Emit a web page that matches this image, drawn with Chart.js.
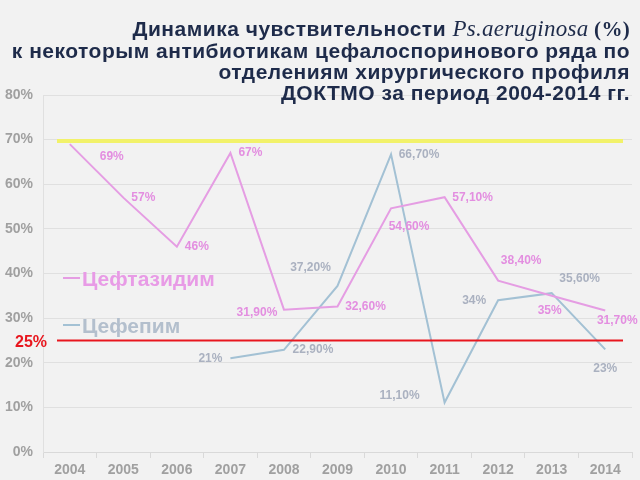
<!DOCTYPE html>
<html>
<head>
<meta charset="utf-8">
<script src="https://cdn.jsdelivr.net/npm/chart.js@4.4.1/dist/chart.umd.min.js"></script>
<style>
  html, body { margin: 0; padding: 0; background: #f2f2f2; }
  #wrap { position: relative; width: 640px; height: 480px; }
  #title {
    position: absolute; right: 10px; top: 18px;
    font: bold 21px "Liberation Sans", Arial, sans-serif;
    letter-spacing: 0.5px;
    line-height: 21px; color: #1e2b4a; text-align: right;
  }
  #title .sp { font-family: "Liberation Serif", "Times New Roman", serif; letter-spacing: 0.3px; }
  #title i { font-weight: normal; font-size: 23px; }
</style>
</head>
<body>
<div id="wrap">
  <canvas id="chart" width="640" height="480"></canvas>
  <div id="title">Динамика чувствительности <span class="sp"><i>Ps.aeruginosa</i> (%)</span><br>к некоторым антибиотикам цефалоспоринового ряда по<br>отделениям хирургического профиля<br>ДОКТМО за период 2004-2014 гг.</div>
</div>
<script>
// ========== Data ==========
const years = ['2004', '2005', '2006', '2007', '2008', '2009', '2010', '2011', '2012', '2013', '2014'];
const seriesNames = ['Цефтазидим', 'Цефепим'];
const ceftazidime = [69, 57, 46, 67, 31.9, 32.6, 54.6, 57.1, 38.4, 35, 31.7];
const cefepime = [null, null, null, 21, 22.9, 37.2, 66.7, 11.1, 34, 35.6, 23];
const thresholdValue = 25;
const upperValue = 69.7;

// label offsets (px) from each point, only used for placing the value text
const pinkLabelShift = [[42, 13], [20, 0], [20, 0], [20, 0], [-27, 3], [28, 0], [18, 18], [28, 0], [23, -20], [-2, 15], [12, 10]];
const blueLabelShift = [null, null, null, [-20, 0], [29, 0], [-27, -18], [28, 0], [-45, -7], [-24, 0], [28, -14], [0, 19]];

const pink = '#e59de3';
const pinkText = '#e38ee0';
const blue = '#a3c1d4';
const blueText = '#aab1c0';

function fmt(v) {
  return Number.isInteger(v) ? v + '%' : v.toFixed(2).replace('.', ',') + '%';
}

// ========== Plugins ==========
const extras = {
  id: 'extras',
  beforeDatasetsDraw(chart) {
    const { ctx, chartArea: a, scales: { y } } = chart;
    ctx.save();
    // yellow upper line
    ctx.strokeStyle = '#f2f26a';
    ctx.lineWidth = 4;
    ctx.beginPath();
    ctx.moveTo(a.left + 14, y.getPixelForValue(upperValue));
    ctx.lineTo(a.right - 9, y.getPixelForValue(upperValue));
    ctx.stroke();
    ctx.restore();
  },
  afterDatasetsDraw(chart) {
    const { ctx, chartArea: a, scales: { y } } = chart;
    ctx.save();
    // red threshold line
    const ty = y.getPixelForValue(thresholdValue);
    ctx.strokeStyle = '#e8161e';
    ctx.lineWidth = 2;
    ctx.beginPath();
    ctx.moveTo(a.left + 14, ty);
    ctx.lineTo(a.right - 9, ty);
    ctx.stroke();
    ctx.fillStyle = '#e8161e';
    ctx.font = 'bold 16px "Liberation Sans", Arial, sans-serif';
    ctx.textAlign = 'right';
    ctx.textBaseline = 'middle';
    ctx.fillText(thresholdValue + '%', 47, ty + 2);

    // value labels
    ctx.font = 'bold 12px "Liberation Sans", Arial, sans-serif';
    ctx.textAlign = 'center';
    [[0, pinkText, pinkLabelShift], [1, blueText, blueLabelShift]].forEach(([di, color, shifts]) => {
      const meta = chart.getDatasetMeta(di);
      const data = chart.data.datasets[di].data;
      ctx.fillStyle = color;
      meta.data.forEach((pt, i) => {
        if (data[i] == null || !shifts[i]) return;
        ctx.fillText(fmt(data[i]), pt.x + shifts[i][0], pt.y + shifts[i][1]);
      });
    });

    // legend inside the plot
    ctx.font = 'bold 21px "Liberation Sans", Arial, sans-serif';
    ctx.textAlign = 'left';
    [[pink, 280], [blue, 327]].forEach(([c, ly], i) => {
      ctx.strokeStyle = c;
      ctx.lineWidth = 2;
      ctx.beginPath();
      ctx.moveTo(63, ly - 2);
      ctx.lineTo(80, ly - 2);
      ctx.stroke();
      ctx.fillStyle = i === 0 ? '#e89be6' : '#b3bfcd';
      ctx.fillText(seriesNames[i], 82, ly);
    });
    ctx.restore();
  }
};

// ========== Chart ==========
new Chart(document.getElementById('chart'), {
  type: 'line',
  data: {
    labels: years,
    datasets: [
      { label: seriesNames[0], data: ceftazidime, borderColor: pink, borderWidth: 2, pointRadius: 0, tension: 0 },
      { label: seriesNames[1], data: cefepime, borderColor: blue, borderWidth: 2, pointRadius: 0, tension: 0 }
    ]
  },
  options: {
    responsive: false,
    animation: false,
    layout: { padding: { top: 95, right: 8, left: 0, bottom: 0 } },
    plugins: { legend: { display: false }, tooltip: { enabled: false } },
    scales: {
      x: {
        offset: true,
        grid: { drawOnChartArea: false, drawTicks: true, tickLength: 6, color: '#d9d9d9', offset: true },
        border: { color: '#d9d9d9' },
        ticks: { color: '#a0a0a0', font: { family: '"Liberation Sans", Arial, sans-serif', size: 14, weight: 'bold' }, padding: 4 },
        afterFit(s) { s.height = 28; }
      },
      y: {
        min: 0, max: 80,
        grid: { color: '#e0e0e0', drawTicks: false },
        border: { color: '#e0e0e0' },
        ticks: { stepSize: 10, color: '#a0a0a0', padding: 10, font: { family: '"Liberation Sans", Arial, sans-serif', size: 14, weight: 'bold' }, callback: v => v + '%' },
        afterFit(s) { s.width = 43; }
      }
    }
  },
  plugins: [extras]
});
</script>
</body>
</html>
